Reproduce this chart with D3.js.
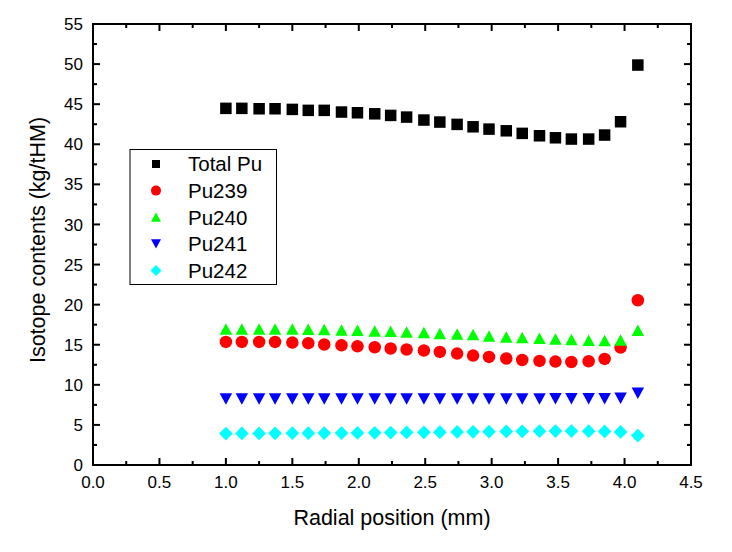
<!DOCTYPE html>
<html><head><meta charset="utf-8">
<script src="https://cdn.jsdelivr.net/npm/d3@7"></script>
<style>body{margin:0;background:#fff;} text{font-family:"Liberation Sans",Arial,sans-serif;}</style>
</head><body>
<svg id="c" width="732" height="552"></svg>
<script>
const radialPos = [1.00,1.12,1.25,1.37,1.50,1.62,1.74,1.87,1.99,2.12,2.24,2.36,2.49,2.61,2.74,2.86,2.98,3.11,3.23,3.36,3.48,3.60,3.73,3.85,3.97,4.10];
const totalPu = [44.48,44.48,44.43,44.43,44.35,44.23,44.23,44.02,43.93,43.80,43.60,43.39,43.02,42.77,42.48,42.18,41.89,41.68,41.36,41.06,40.81,40.65,40.65,41.15,42.81,49.88];
const pu239 = [15.35,15.35,15.35,15.35,15.27,15.19,15.03,14.94,14.81,14.69,14.53,14.40,14.28,14.10,13.90,13.65,13.48,13.28,13.10,12.98,12.90,12.85,12.94,13.23,14.65,20.55];
const pu240 = [16.97,16.97,16.97,16.97,16.97,16.93,16.90,16.85,16.81,16.72,16.69,16.60,16.52,16.40,16.35,16.27,16.10,15.97,15.90,15.81,15.72,15.65,15.56,15.52,15.60,16.81];
const pu241 = [8.22,8.22,8.22,8.22,8.22,8.22,8.22,8.22,8.22,8.23,8.23,8.23,8.23,8.23,8.23,8.24,8.24,8.24,8.24,8.24,8.25,8.25,8.26,8.27,8.32,8.95];
const pu242 = [3.92,3.93,3.94,3.95,3.96,3.97,3.98,3.99,4.00,4.02,4.04,4.06,4.08,4.10,4.12,4.14,4.16,4.18,4.20,4.22,4.24,4.24,4.22,4.18,4.12,3.67];
const seriesNames = ["Total Pu","Pu239","Pu240","Pu241","Pu242"];
const xTicks = [0.0,0.5,1.0,1.5,2.0,2.5,3.0,3.5,4.0,4.5];
const yTicks = [0,5,10,15,20,25,30,35,40,45,50,55];

const svg = d3.select("#c");
const L=93, R=691, T=24, B=465;
const x = d3.scaleLinear().domain([0,4.5]).range([L,R]);
const y = d3.scaleLinear().domain([0,55]).range([B,T]);

const shapes = {
  square: s => `M${-s/2},${-s/2}h${s}v${s}h${-s}Z`,
  circle: s => `M${s/2},0A${s/2},${s/2} 0 1,1 ${-s/2},0A${s/2},${s/2} 0 1,1 ${s/2},0Z`,
  up: s => `M0,${-s*0.46}L${s/2},${s*0.46}L${-s/2},${s*0.46}Z`,
  down: s => `M0,${s*0.46}L${s/2},${-s*0.46}L${-s/2},${-s*0.46}Z`,
  diamond: s => `M0,${-s*0.55}L${s*0.55},0L0,${s*0.55}L${-s*0.55},0Z`
};
const series = [
  {name:seriesNames[0], vals:totalPu, color:"#000000", shape:"square", size:11.5, lsize:8},
  {name:seriesNames[1], vals:pu239, color:"#ff0000", shape:"circle", size:12.5, lsize:10},
  {name:seriesNames[2], vals:pu240, color:"#00ff00", shape:"up", size:12.5, lsize:10},
  {name:seriesNames[3], vals:pu241, color:"#0000ff", shape:"down", size:12.5, lsize:10},
  {name:seriesNames[4], vals:pu242, color:"#00ffff", shape:"diamond", size:12.5, lsize:10}
];

// frame
svg.append("rect").attr("x",L).attr("y",T).attr("width",R-L).attr("height",B-T)
  .attr("fill","none").attr("stroke","#000").attr("stroke-width",2);

// ticks (inward, all sides)
const xMinor = d3.range(0,4.5001,0.25);
const yMinor = d3.range(0,55.001,2.5);
const tg = svg.append("g").attr("stroke","#000").attr("stroke-width",2);
xMinor.forEach((v,i)=>{
  const len = (i%2===0)?7:4;
  tg.append("line").attr("x1",x(v)).attr("x2",x(v)).attr("y1",B).attr("y2",B-len);
  tg.append("line").attr("x1",x(v)).attr("x2",x(v)).attr("y1",T).attr("y2",T+len);
});
yMinor.forEach((v,i)=>{
  const len = (i%2===0)?7:4;
  tg.append("line").attr("y1",y(v)).attr("y2",y(v)).attr("x1",L).attr("x2",L+len);
  tg.append("line").attr("y1",y(v)).attr("y2",y(v)).attr("x1",R).attr("x2",R-len);
});

// tick labels
svg.append("g").selectAll("text").data(xTicks).join("text")
  .attr("x",d=>x(d)).attr("y",B+23).attr("text-anchor","middle")
  .attr("font-size",17).text(d=>d.toFixed(1));
svg.append("g").selectAll("text").data(yTicks).join("text")
  .attr("x",L-10).attr("y",d=>y(d)).attr("dy","0.36em").attr("text-anchor","end")
  .attr("font-size",17).text(d=>d);

// axis titles
svg.append("text").attr("x",(L+R)/2).attr("y",525).attr("text-anchor","middle")
  .attr("font-size",21.5).text("Radial position (mm)");
svg.append("text").attr("transform",`translate(45,240) rotate(-90)`)
  .attr("text-anchor","middle").attr("font-size",21.5).text("Isotope contents (kg/tHM)");

// points
series.forEach(s=>{
  svg.append("g").selectAll("path").data(s.vals).join("path")
    .attr("transform",(d,i)=>`translate(${x(radialPos[i])},${y(d)})`)
    .attr("d",shapes[s.shape](s.size)).attr("fill",s.color);
});

// legend
const lg = svg.append("g");
lg.append("rect").attr("x",130).attr("y",149.5).attr("width",146.5).attr("height",135)
  .attr("fill","#fff").attr("stroke","#000").attr("stroke-width",1);
series.forEach((s,i)=>{
  const cy = 164 + i*26.6;
  lg.append("path").attr("transform",`translate(156,${cy})`).attr("d",shapes[s.shape](s.lsize)).attr("fill",s.color);
  lg.append("text").attr("x",188).attr("y",cy).attr("dy","0.36em").attr("font-size",20.5).text(s.name);
});
</script>
</body></html>
